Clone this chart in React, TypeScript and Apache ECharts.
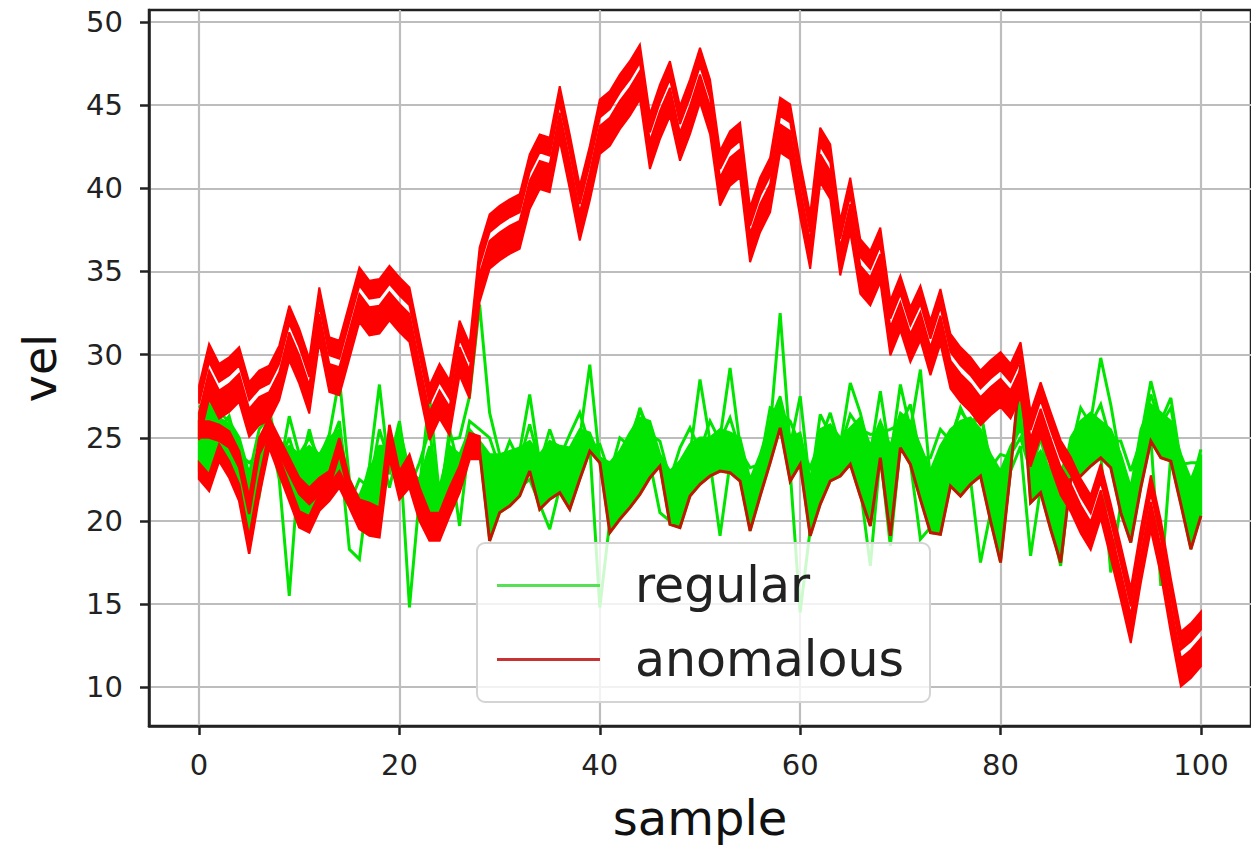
import React, { useEffect, useRef } from "react";
import * as echarts from "echarts";

// x ticks / y ticks
const xTicks = [0, 20, 40, 60, 80, 100];
const yTicks = [10, 15, 20, 25, 30, 35, 40, 45, 50];

// anomalous – upper group, top band (centre line), samples 0..100
const redHighA = [
  27.6, 30.1, 28.9, 29.3, 29.9, 27.8, 28.5, 28.8, 30.0, 32.4,
  31.0, 29.2, 33.5, 30.5, 30.3, 32.5, 34.7, 33.9, 34.0, 34.8,
  34.1, 33.5, 30.5, 27.6, 28.9, 27.9, 31.5, 30.1, 35.9, 37.9,
  38.4, 38.8, 39.1, 41.5, 42.7, 42.5, 45.6, 42.7, 39.6, 42.0,
  44.8, 45.3, 46.3, 47.1, 48.1, 43.9, 45.7, 47.1, 44.4, 46.0,
  47.9, 46.0, 41.7, 42.9, 43.4, 38.3, 40.1, 41.3, 44.9, 44.5,
  41.0, 37.9, 43.1, 42.1, 37.5, 40.1, 36.4, 35.7, 37.1, 32.7,
  34.2, 32.3, 33.6, 31.5, 33.4, 30.7, 29.9, 29.3, 28.5, 29.1,
  29.6, 28.9, 30.2, 26.0, 27.8, 26.0, 24.3, 23.3, 22.0, 21.0,
  22.9, 20.5, 18.0, 15.4, 19.0, 22.2, 19.5, 16.0, 12.8, 13.3,
  14.0,
];

// anomalous – upper group, lower band (centre line)
const redHighB = [
  25.7, 28.2, 27.0, 27.4, 28.0, 25.9, 26.6, 26.9, 28.1, 30.5,
  29.1, 27.3, 31.6, 28.6, 28.4, 30.6, 32.8, 32.0, 32.1, 32.9,
  32.2, 31.6, 28.6, 25.7, 27.0, 26.0, 29.6, 28.2, 34.0, 36.0,
  36.5, 36.9, 37.2, 39.6, 40.8, 40.6, 43.7, 40.8, 37.7, 40.1,
  42.9, 43.4, 44.4, 45.2, 46.2, 42.0, 43.8, 45.2, 42.5, 44.1,
  46.0, 44.1, 39.8, 41.0, 41.5, 36.4, 38.2, 39.4, 43.0, 42.6,
  39.1, 36.0, 41.2, 40.2, 35.6, 38.2, 34.5, 33.8, 35.2, 30.8,
  32.3, 30.4, 31.7, 29.6, 31.5, 28.8, 28.0, 27.4, 26.6, 27.2,
  27.7, 27.0, 28.3, 24.1, 25.9, 24.1, 22.4, 21.4, 20.1, 19.1,
  21.0, 18.6, 16.1, 13.5, 17.1, 20.3, 17.6, 14.1, 10.9, 11.4,
  12.1,
];

// anomalous – lower group (bottom line, follows lower edge of the regular band)
const redLow = [
  23.0, 22.3, 24.1, 23.1, 21.7, 18.5, 22.0, 24.9, 23.3, 21.7,
  20.1, 19.8, 21.1, 21.7, 22.5, 21.3, 20.0, 19.6, 19.5, 24.3,
  21.8, 22.5, 20.5, 19.3, 19.3, 20.8, 22.2, 24.2, 24.2, 18.8,
  20.5, 20.9, 21.5, 23.0, 20.7, 21.3, 21.7, 20.7, 22.5, 24.2,
  23.5, 19.3, 20.1, 20.8, 21.6, 22.6, 23.3, 19.8, 19.6, 21.5,
  22.2, 22.7, 23.0, 22.9, 22.4, 19.4, 21.5, 23.5, 25.6, 22.4,
  23.4, 19.1, 21.0, 22.4, 22.7, 23.4, 21.5, 19.7, 23.8, 19.1,
  24.4, 23.4, 21.3, 19.3, 19.2, 22.1, 21.5, 22.2, 22.7, 20.0,
  17.5, 23.0, 29.4, 21.1, 21.7, 19.5, 17.5, 22.5, 22.7, 23.3,
  23.8, 23.2, 20.5, 18.7, 22.0, 24.8, 23.8, 23.6, 21.0, 18.3,
  20.3,
];

// anomalous – lower group, upper line (samples 0..28 only)
const redLowTop = [
  25.5, 25.5, 25.3, 24.9, 23.7, 20.9, 24.5, 25.7, 24.5, 23.3,
  22.1, 21.5, 22.1, 22.5, 24.5, 22.0, 20.8, 20.6, 20.3, 25.3,
  22.5, 23.5, 21.5, 20.0, 20.0, 21.5, 22.8, 24.8, 24.6,
];

// regular – upper edge of the dense band
const greenTop = [
  26.5, 27.0, 26.2, 25.8, 24.8, 22.5, 24.5, 26.0, 24.0, 24.5,
  24.0, 24.5, 24.0, 25.0, 25.5, 22.0, 21.5, 23.0, 24.5, 24.5,
  25.0, 23.0, 22.5, 24.5, 22.0, 24.5, 24.0, 25.5, 24.8, 24.0,
  24.0, 24.2, 24.4, 24.8, 24.0, 24.8, 24.5, 24.4, 25.5, 25.3,
  23.8, 23.5, 24.2, 25.3, 26.2, 26.0, 24.0, 23.0, 23.6, 24.6,
  25.0, 25.0, 25.5, 25.3, 25.0, 22.5, 24.0, 26.0, 27.5, 25.0,
  25.3, 22.5, 25.5, 25.8, 25.0, 25.6, 26.2, 24.5, 26.0, 24.5,
  26.5, 26.0, 24.5, 23.0, 24.5, 25.5, 26.0, 26.2, 25.5, 24.0,
  23.0, 24.5, 25.5, 23.5, 24.2, 23.0, 22.0, 25.0, 26.0, 26.5,
  26.0, 25.5, 24.0, 22.0, 25.5, 27.0, 26.5, 26.0, 24.0, 22.5,
  24.0,
];

// regular – a jagged curve running along the top of the dense band
const greenMid = [
  26.0, 27.2, 25.5, 26.3, 24.0, 23.5, 24.0, 26.8, 23.5, 25.0,
  23.0, 25.5, 23.2, 24.5, 26.0, 21.0, 22.5, 22.0, 25.5, 23.5,
  26.0, 22.0, 23.5, 25.5, 21.0, 25.5, 23.0, 26.0, 25.5, 25.0,
  23.2, 24.8, 23.6, 25.8, 23.4, 25.5, 23.8, 25.2, 26.5, 24.5,
  24.6, 22.8, 25.0, 24.5, 26.8, 25.2, 24.8, 22.5, 24.4, 25.6,
  24.2, 26.0, 24.8, 26.2, 24.2, 23.2, 23.4, 26.8, 26.5, 26.0,
  24.5, 23.2, 24.8, 26.5, 24.4, 26.4, 25.5, 25.2, 25.3, 25.5,
  25.8, 27.0, 23.8, 23.8, 25.5, 24.8, 26.8, 25.5, 26.5, 23.2,
  24.0, 23.8, 26.2, 22.8, 25.0, 22.4, 23.0, 24.2, 26.8, 25.8,
  27.0, 24.8, 24.8, 23.0, 24.8, 27.6, 25.8, 26.8, 23.4, 23.5,
  23.5,
];

// regular – a curve with the upward spikes
const greenUp = [
  26.8, 27.6, 26.5, 26.0, 25.0, 22.8, 25.5, 26.3, 23.0, 26.3,
  24.0, 25.0, 23.8, 25.2, 28.6, 22.5, 21.0, 23.3, 28.2, 22.8,
  25.5, 23.0, 22.0, 27.5, 21.5, 24.9, 25.0, 27.5, 33.0, 26.5,
  24.0, 23.8, 24.2, 27.6, 23.5, 24.5, 24.2, 24.0, 25.0, 29.4,
  23.5, 23.2, 24.0, 25.0, 26.6, 25.5, 23.5, 22.5, 23.2, 24.0,
  28.5, 24.8, 25.0, 29.2, 24.5, 22.0, 23.5, 25.5, 32.5, 24.5,
  27.5, 22.0, 26.4, 25.2, 24.5, 28.3, 26.5, 24.0, 27.8, 23.8,
  28.2, 25.5, 29.1, 22.5, 24.0, 25.0, 26.6, 25.8, 26.6, 23.5,
  22.5, 24.0, 25.0, 23.0, 23.8, 22.5, 21.5, 24.5, 25.5, 26.0,
  29.8, 27.0, 23.5, 21.5, 25.0, 28.4, 26.0, 27.4, 23.5, 22.0,
  24.3,
];

// regular – a curve with the downward spikes
const greenDown = [
  25.5, 26.5, 25.8, 25.2, 24.2, 22.3, 21.5, 25.5, 22.5, 15.5,
  23.5, 24.0, 23.0, 24.5, 24.5, 18.3, 17.7, 22.5, 24.5, 22.0,
  24.5, 14.8, 21.5, 24.0, 21.0, 24.0, 19.7, 25.0, 24.5, 20.0,
  21.0, 21.5, 22.0, 22.5, 21.0, 19.5, 22.0, 21.5, 23.0, 24.5,
  14.8, 20.0, 20.5, 21.5, 22.5, 23.5, 20.5, 20.0, 20.5, 22.0,
  23.0, 23.5, 19.1, 23.5, 23.0, 20.0, 22.0, 24.0, 26.0, 23.0,
  14.5, 19.5, 21.5, 22.8, 23.0, 23.8, 22.0, 17.3, 24.0, 18.5,
  24.5, 23.5, 18.9, 19.6, 19.8, 22.5, 22.0, 22.5, 17.5, 20.5,
  18.0, 23.0, 24.5, 17.9, 22.0, 20.0, 17.3, 22.8, 23.0, 23.5,
  24.0, 16.9, 21.0, 19.0, 22.5, 25.0, 16.1, 24.0, 21.5, 18.8,
  20.5,
];

const GREEN = "#00e400";
const RED = "#ff0000";
const FONT = "DejaVu Sans";

const pts = (arr: number[]) => arr.map((v, i) => [i, v]);

// A filled ribbon drawn through the axes' own scales: either between two curves,
// or around one curve with a fixed vertical half-thickness in pixels.
const ribbon = (
  name: string,
  upper: number[],
  lower: number[] | null,
  halfPx: number,
  stroke: number,
  color: string,
  z: number
) => ({
  name,
  type: "custom",
  coordinateSystem: "cartesian2d",
  silent: true,
  clip: true,
  z,
  itemStyle: { color },
  data: [[upper.length / 2, upper[0]]],
  renderItem: (_params: any, api: any) => {
    const top = upper.map((v, i) => {
      const p = api.coord([i, v]);
      return [p[0], p[1] - halfPx];
    });
    const bot = (lower ?? upper)
      .map((v, i) => {
        const p = api.coord([i, v]);
        return [p[0], p[1] + halfPx];
      })
      .reverse();
    return {
      type: "polygon",
      shape: { points: top.concat(bot) },
      style: { fill: color, stroke: color, lineWidth: stroke, lineJoin: "miter", miterLimit: 3 },
    };
  },
});

export default function App() {
  const ref = useRef<HTMLDivElement>(null);
  useEffect(() => {
    if (!ref.current) return;
    const chart = echarts.init(ref.current, null, { renderer: "svg" });
    const thinLine = (name: string, data: number[], color: string, width: number, z: number) => ({
      name,
      type: "line",
      data: pts(data),
      symbol: "none",
      silent: true,
      z,
      lineStyle: { color, width, join: "miter", miterLimit: 3 },
      itemStyle: { color },
    });
    const option: any = {
      animation: false,
      backgroundColor: "#ffffff",
      grid: {
        left: 149,
        top: 10,
        right: -8,
        bottom: 116,
        show: true,
        borderColor: "#222",
        borderWidth: 2.5,
        backgroundColor: "transparent",
      },
      xAxis: {
        type: "value",
        min: -5,
        max: 105,
        splitNumber: 5,
        axisLine: { show: true, onZero: false, lineStyle: { color: "#222", width: 2.5 } },
        axisTick: { show: true, length: 9, customValues: xTicks, lineStyle: { color: "#222", width: 2.5 } },
        axisLabel: { customValues: xTicks, fontSize: 29, color: "#222", margin: 24, fontFamily: FONT },
        splitLine: { show: true, lineStyle: { color: "#bdbdbd", width: 2.2 } },
        name: "sample",
        nameLocation: "middle",
        nameGap: 68,
        nameTextStyle: { fontSize: 48, color: "#111", fontFamily: FONT },
      },
      yAxis: {
        type: "value",
        min: 7.67,
        max: 50.72,
        splitNumber: 9,
        axisLine: { show: true, onZero: false, lineStyle: { color: "#222", width: 2.5 } },
        axisTick: { show: true, length: 9, customValues: yTicks, lineStyle: { color: "#222", width: 2.5 } },
        axisLabel: { customValues: yTicks, fontSize: 29, color: "#222", margin: 26, fontFamily: FONT },
        splitLine: { show: true, lineStyle: { color: "#bdbdbd", width: 2.2 } },
        name: "vel",
        nameLocation: "middle",
        nameGap: 86,
        nameTextStyle: { fontSize: 46, color: "#111", fontFamily: FONT },
      },
      legend: {
        left: 477,
        top: 543,
        z: 20,
        orient: "vertical",
        itemWidth: 103,
        itemHeight: 3,
        itemGap: 25,
        padding: [18, 26, 18, 20],
        backgroundColor: "rgba(255,255,255,0.8)",
        borderColor: "#d4d4d4",
        borderWidth: 2,
        borderRadius: 8,
        selectedMode: false,
        textStyle: { fontSize: 49, color: "#222", fontFamily: FONT, padding: [0, 0, 0, 30] },
        data: [
          { name: "regular", icon: "rect", itemStyle: { color: "#55e055" } },
          { name: "anomalous", icon: "rect", itemStyle: { color: "#c83232" } },
        ],
      },
      series: [
        ribbon("regular", greenTop, redLow, 0, 2.5, GREEN, 2),
        thinLine("regular", greenMid, GREEN, 3, 3),
        thinLine("regular", greenUp, GREEN, 3, 3),
        thinLine("regular", greenDown, GREEN, 3, 3),
        thinLine("anomalous", redLow, "#c01800", 3, 4),
        ribbon("anomalous", redLowTop, null, 8, 2.5, RED, 5),
        ribbon("anomalous", redLow.slice(0, 29), null, 8, 2.5, RED, 5),
        ribbon("anomalous", redHighB, null, 14, 2, RED, 6),
        ribbon("anomalous", redHighA, null, 9, 2, RED, 7),
      ],
    };
    chart.setOption(option);
    return () => chart.dispose();
  }, []);
  return (
    <div
      ref={ref}
      style={{ position: "absolute", left: 0, top: 0, width: 1251, height: 847, background: "#fff" }}
    />
  );
}
